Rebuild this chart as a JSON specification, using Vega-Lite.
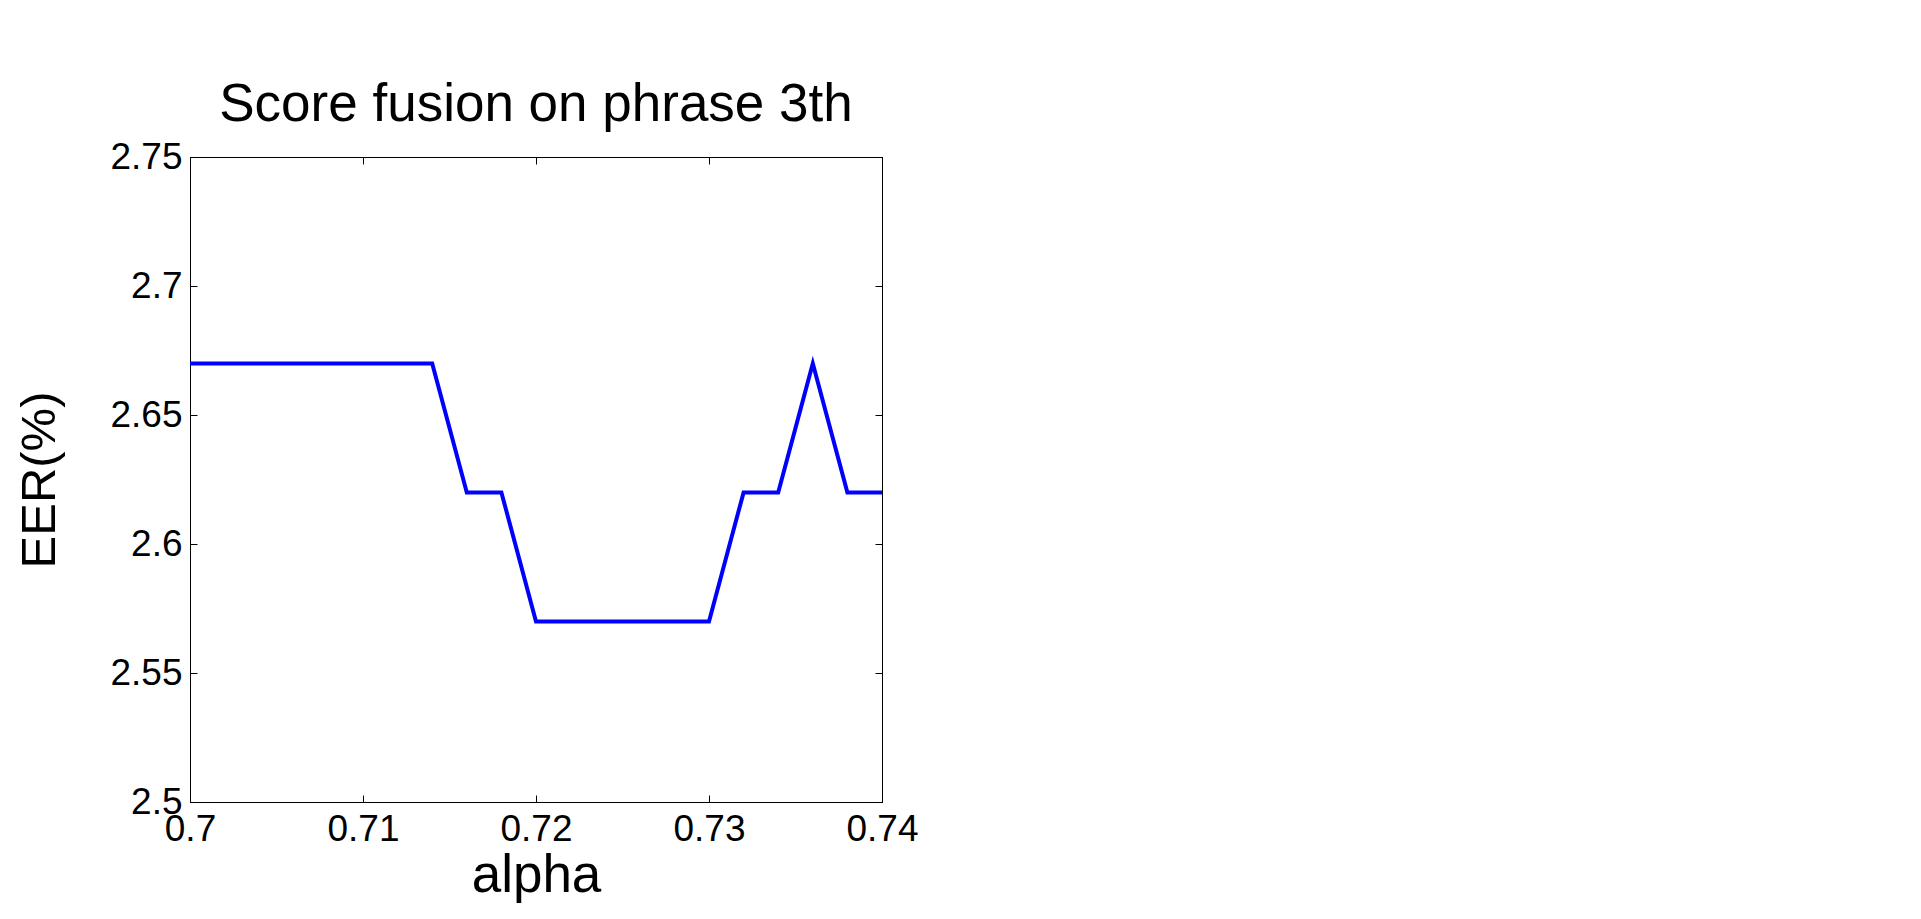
{
  "$schema": "https://vega.github.io/schema/vega-lite/v6.json",
  "autosize": {"type": "none"},
  "padding": {"left": 190, "top": 157, "right": 1039, "bottom": 117},
  "width": 692,
  "height": 645,
  "background": "white",
  "title": {
    "text": "Score fusion on phrase 3th",
    "font": "Liberation Sans",
    "fontSize": 53,
    "fontWeight": "normal",
    "color": "black",
    "anchor": "middle",
    "baseline": "alphabetic",
    "offset": -36
  },
  "config": {
    "view": {"stroke": "black", "strokeWidth": 1},
    "axis": {
      "domainColor": "black",
      "tickColor": "black",
      "labelColor": "black",
      "titleColor": "black",
      "labelFont": "Liberation Sans",
      "titleFont": "Liberation Sans",
      "labelFontSize": 37,
      "titleFontSize": 52,
      "titleFontWeight": "normal",
      "grid": false,
      "labelFlush": false,
      "labelOverlap": false,
      "tickSize": -7
    }
  },
  "data": {
    "values": [
      {"alpha": 0.700, "eer": 2.67},
      {"alpha": 0.702, "eer": 2.67},
      {"alpha": 0.704, "eer": 2.67},
      {"alpha": 0.706, "eer": 2.67},
      {"alpha": 0.708, "eer": 2.67},
      {"alpha": 0.710, "eer": 2.67},
      {"alpha": 0.712, "eer": 2.67},
      {"alpha": 0.714, "eer": 2.67},
      {"alpha": 0.716, "eer": 2.62},
      {"alpha": 0.718, "eer": 2.62},
      {"alpha": 0.720, "eer": 2.57},
      {"alpha": 0.722, "eer": 2.57},
      {"alpha": 0.724, "eer": 2.57},
      {"alpha": 0.726, "eer": 2.57},
      {"alpha": 0.728, "eer": 2.57},
      {"alpha": 0.730, "eer": 2.57},
      {"alpha": 0.732, "eer": 2.62},
      {"alpha": 0.734, "eer": 2.62},
      {"alpha": 0.736, "eer": 2.67},
      {"alpha": 0.738, "eer": 2.62},
      {"alpha": 0.740, "eer": 2.62}
    ]
  },
  "layer": [
    {
      "mark": {"type": "line", "color": "#0000ff", "strokeWidth": 4, "clip": true},
      "encoding": {
        "x": {
          "field": "alpha", "type": "quantitative",
          "scale": {"domain": [0.7, 0.74], "nice": false, "zero": false},
          "axis": {"title": "alpha", "values": [0.7, 0.71, 0.72, 0.73, 0.74], "format": "~g", "labelPadding": 16, "titlePadding": 2, "titleFontSize": 53}
        },
        "y": {
          "field": "eer", "type": "quantitative",
          "scale": {"domain": [2.5, 2.75], "nice": false, "zero": false},
          "axis": {"title": "EER(%)", "values": [2.5, 2.55, 2.6, 2.65, 2.7, 2.75], "format": "~g", "labelPadding": 15, "titlePadding": 45, "titleFontSize": 49}
        }
      }
    },
    {
      "mark": {"type": "line", "opacity": 0},
      "encoding": {
        "x": {
          "field": "alpha", "type": "quantitative",
          "scale": {"domain": [0.7, 0.74], "nice": false, "zero": false},
          "axis": {"orient": "top", "title": null, "labels": false, "values": [0.7, 0.71, 0.72, 0.73, 0.74]}
        },
        "y": {
          "field": "eer", "type": "quantitative",
          "scale": {"domain": [2.5, 2.75], "nice": false, "zero": false},
          "axis": {"orient": "right", "title": null, "labels": false, "values": [2.5, 2.55, 2.6, 2.65, 2.7, 2.75]}
        }
      }
    }
  ],
  "resolve": {"scale": {"x": "independent", "y": "independent"}}
}
